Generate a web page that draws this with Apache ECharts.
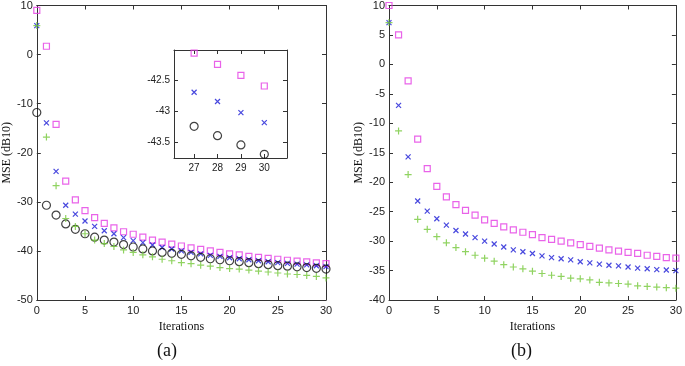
<!DOCTYPE html>
<html>
<head>
<meta charset="utf-8">
<script src="https://cdn.jsdelivr.net/npm/echarts@6/dist/echarts.min.js"></script>
<style>
html, body { margin: 0; padding: 0; background: #fff; }
#chart { width: 685px; height: 366px; }
</style>
</head>
<body>
<div id="chart"></div>
<script>
// iteration index (x values)
var iterations = [0, 1, 2, 3, 4, 5, 6, 7, 8, 9, 10, 11, 12, 13, 14, 15, 16, 17, 18, 19, 20, 21, 22, 23, 24, 25, 26, 27, 28, 29, 30];

// panel (a)
var aSquare = [9.0, 1.7, -14.2, -25.8, -29.6, -31.8, -33.2, -34.4, -35.3, -36.1, -36.6, -37.2, -37.8, -38.2, -38.6, -39.0, -39.4, -39.7, -40.0, -40.3, -40.6, -40.8, -41.1, -41.3, -41.5, -41.7, -41.9, -42.07, -42.25, -42.43, -42.6];
var aCross = [5.9, -13.9, -23.8, -30.7, -32.5, -33.9, -35.0, -35.9, -36.5, -37.3, -37.9, -38.3, -38.8, -39.3, -39.6, -40.0, -40.3, -40.6, -40.9, -41.1, -41.4, -41.6, -41.8, -42.0, -42.2, -42.4, -42.55, -42.7, -42.85, -43.03, -43.19];
var aCircle = [-11.8, -30.7, -32.7, -34.5, -35.6, -36.5, -37.2, -37.8, -38.2, -38.7, -39.2, -39.6, -40.0, -40.3, -40.5, -40.7, -41.0, -41.3, -41.6, -41.8, -42.0, -42.2, -42.4, -42.6, -42.8, -43.0, -43.1, -43.25, -43.4, -43.55, -43.7];
var aPlus = [5.9, -16.8, -26.7, -33.4, -35.0, -36.5, -37.8, -38.5, -39.1, -39.8, -40.3, -40.8, -41.2, -41.7, -42.0, -42.4, -42.6, -42.9, -43.1, -43.4, -43.6, -43.7, -43.9, -44.1, -44.3, -44.5, -44.7, -44.8, -45.0, -45.2, -45.5];

// panel (b)
var bSquare = [10.0, 5.0, -2.8, -12.7, -17.7, -20.7, -22.5, -23.8, -24.8, -25.6, -26.4, -27.0, -27.6, -28.1, -28.5, -28.9, -29.4, -29.7, -30.0, -30.3, -30.6, -30.9, -31.2, -31.5, -31.7, -31.9, -32.1, -32.4, -32.6, -32.8, -32.9];
var bCross = [7.1, -6.95, -15.7, -23.2, -24.9, -26.2, -27.3, -28.2, -28.8, -29.4, -30.0, -30.5, -31.0, -31.5, -31.8, -32.1, -32.5, -32.8, -33.0, -33.2, -33.5, -33.7, -33.9, -34.1, -34.2, -34.4, -34.6, -34.7, -34.85, -34.9, -35.0];
var bPlus = [7.1, -11.3, -18.7, -26.3, -28.0, -29.25, -30.3, -31.1, -31.8, -32.4, -32.9, -33.4, -34.0, -34.4, -34.7, -35.1, -35.5, -35.8, -36.0, -36.3, -36.4, -36.6, -37.0, -37.1, -37.2, -37.3, -37.6, -37.7, -37.8, -37.9, -38.0];

// inset tick values
var insetXTicks = [27, 28, 29, 30];
var insetYTicks = [-43.5, -43, -42.5];

var MAGENTA = '#e33ce3', BLUE = '#1a1ad6', GREEN = '#74c83a', BLACK = '#111';
var AXIS = '#333';
var CROSS = 'path://M0,0L10,10M10,0L0,10';
var PLUS = 'path://M5,0L5,10M0,5L10,5';

function pairs(ys) {
    return iterations.map(function (x, i) { return [x, ys[i]]; });
}

function axisX(grid, pos, min, max, interval, showLabel, custom) {
    var ax = {
        type: 'value', gridIndex: grid, position: pos, min: min, max: max,
        splitLine: {show: false},
        axisLine: {show: true, onZero: false, lineStyle: {color: AXIS, width: 1}},
        axisTick: {show: true, inside: true, length: 4, lineStyle: {color: AXIS}},
        axisLabel: {show: showLabel, color: '#222', fontFamily: 'Liberation Sans', fontSize: 11, margin: 5}
    };
    if (interval) ax.interval = interval;
    if (custom) {
        ax.axisTick.customValues = custom;
        ax.axisLabel.customValues = custom;
        ax.axisLabel.fontSize = 10;
    }
    return ax;
}

function axisY(grid, pos, min, max, interval, showLabel, custom) {
    var ax = axisX(grid, pos, min, max, interval, showLabel, custom);
    ax.axisLabel.margin = 4;
    return ax;
}

function scatter(name, xi, yi, data, symbol, size, color, clip) {
    return {
        name: name, type: 'scatter', xAxisIndex: xi, yAxisIndex: yi,
        data: pairs(data), symbol: symbol, symbolSize: size, clip: clip,
        itemStyle: {color: 'rgba(0,0,0,0)', borderColor: color, borderWidth: 1.2},
        emphasis: {disabled: true}
    };
}

var serifName = {fontFamily: 'Liberation Serif', fontSize: 12, color: '#111'};

var xs = [
    axisX(0, 'bottom', 0, 30, 5, true),
    axisX(0, 'top', 0, 30, 5, false),
    axisX(1, 'bottom', 0, 30, 5, true),
    axisX(1, 'top', 0, 30, 5, false),
    axisX(2, 'bottom', 26.14, 30.97, null, true, insetXTicks),
    axisX(2, 'top', 26.14, 30.97, null, false, insetXTicks)
];
xs[0].name = 'Iterations'; xs[0].nameLocation = 'middle'; xs[0].nameGap = 20; xs[0].nameTextStyle = serifName;
xs[2].name = 'Iterations'; xs[2].nameLocation = 'middle'; xs[2].nameGap = 20; xs[2].nameTextStyle = serifName;

var ys = [
    axisY(0, 'left', -50, 10, 10, true),
    axisY(0, 'right', -50, 10, 10, false),
    axisY(1, 'left', -40, 10, 5, true),
    axisY(1, 'right', -40, 10, 5, false),
    axisY(2, 'left', -43.76, -42.02, null, true, insetYTicks),
    axisY(2, 'right', -43.76, -42.02, null, false, insetYTicks)
];
ys[0].name = 'MSE (dB10)'; ys[0].nameLocation = 'middle'; ys[0].nameGap = 22; ys[0].nameTextStyle = serifName;
ys[2].name = 'MSE (dB10)'; ys[2].nameLocation = 'middle'; ys[2].nameGap = 24; ys[2].nameTextStyle = serifName;

var option = {
    backgroundColor: '#fff',
    animation: false,
    grid: [
        {left: 35, top: 5, width: 291, height: 295},
        {left: 389, top: 5, width: 291, height: 295},
        {left: 174, top: 50, width: 113, height: 108}
    ],
    xAxis: xs,
    yAxis: ys,
    series: [
        scatter('a-square', 0, 0, aSquare, 'rect', 6, MAGENTA, false),
        scatter('a-cross', 0, 0, aCross, CROSS, 5, BLUE, false),
        scatter('a-circle', 0, 0, aCircle, 'circle', 8, BLACK, false),
        scatter('a-plus', 0, 0, aPlus, PLUS, 7, GREEN, false),
        scatter('b-square', 2, 2, bSquare, 'rect', 6, MAGENTA, false),
        scatter('b-cross', 2, 2, bCross, CROSS, 5, BLUE, false),
        scatter('b-plus', 2, 2, bPlus, PLUS, 7, GREEN, false),
        scatter('inset-square', 4, 4, aSquare, 'rect', 6, MAGENTA, true),
        scatter('inset-cross', 4, 4, aCross, CROSS, 5, BLUE, true),
        scatter('inset-circle', 4, 4, aCircle, 'circle', 8, BLACK, true),
        scatter('inset-plus', 4, 4, aPlus, PLUS, 7, GREEN, true)
    ],
    graphic: [
        {type: 'text', left: 157, top: 342, style: {text: '(a)', font: '18px "Liberation Serif"', fill: '#111'}},
        {type: 'text', left: 511, top: 342, style: {text: '(b)', font: '18px "Liberation Serif"', fill: '#111'}}
    ]
};

var mychart = echarts.init(document.getElementById('chart'));
mychart.setOption(option);
</script>
</body>
</html>
